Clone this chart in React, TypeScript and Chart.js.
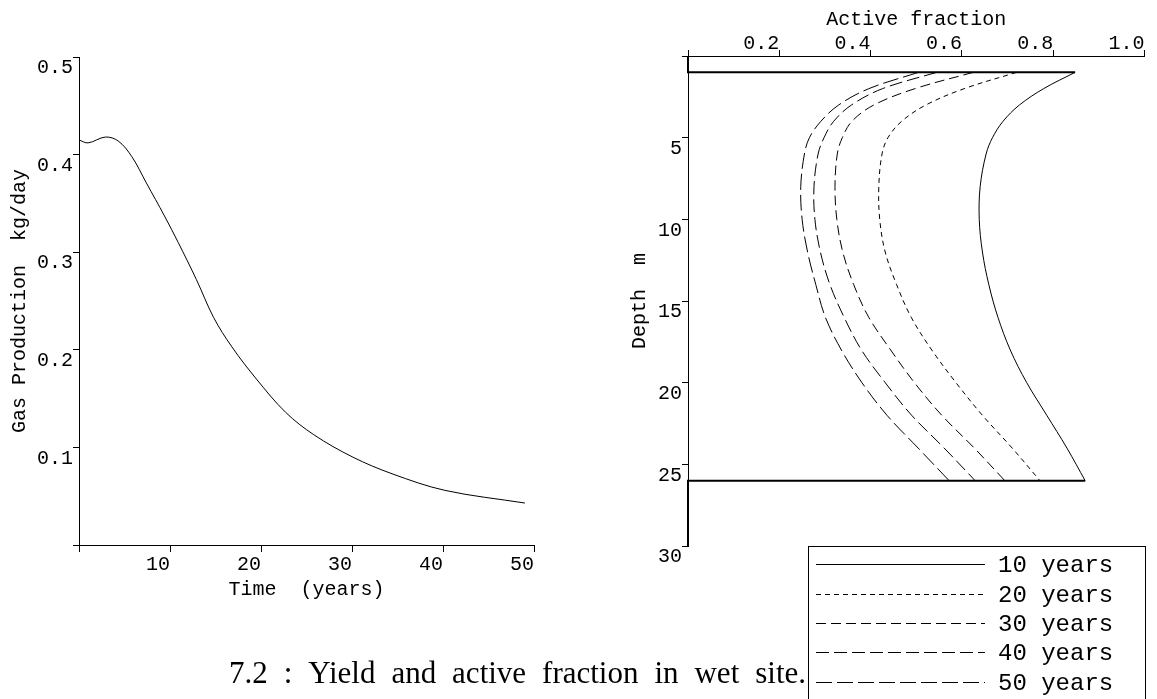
import React, { useEffect, useRef } from 'react';
import { Chart, registerables } from 'chart.js';

Chart.register(...registerables);

// ---- Left panel: gas production over time ----
const TIME_YEARS = [0, 1.0, 2.9, 4.3, 5.8, 7.4, 9.4, 10.9, 12.9, 14.8, 16.8, 19.5, 22.7, 25.8, 30.1, 34.4, 40.2, 49.0];
const GAS_KG_DAY = [0.415, 0.412, 0.418, 0.414, 0.398, 0.371, 0.337, 0.310, 0.272, 0.233, 0.203, 0.170, 0.136, 0.113, 0.090, 0.073, 0.056, 0.043];

// ---- Right panel: active fraction profiles ----
const DEPTH_M = [1, 2, 3, 4, 5, 6, 8, 10, 12, 14, 16, 18, 20, 22, 24, 26];
const FRACTION_10Y = [0.848, 0.779, 0.726, 0.690, 0.667, 0.653, 0.640, 0.638, 0.645, 0.659, 0.679, 0.706, 0.742, 0.786, 0.830, 0.870];
const FRACTION_20Y = [0.720, 0.605, 0.521, 0.468, 0.438, 0.425, 0.418, 0.420, 0.432, 0.457, 0.489, 0.534, 0.587, 0.645, 0.710, 0.771];
const FRACTION_30Y = [0.625, 0.497, 0.407, 0.359, 0.338, 0.327, 0.322, 0.326, 0.339, 0.363, 0.396, 0.444, 0.496, 0.556, 0.627, 0.694];
const FRACTION_40Y = [0.545, 0.426, 0.358, 0.319, 0.298, 0.285, 0.276, 0.278, 0.290, 0.311, 0.342, 0.380, 0.432, 0.490, 0.561, 0.629];
const FRACTION_50Y = [0.505, 0.396, 0.330, 0.291, 0.266, 0.255, 0.247, 0.250, 0.262, 0.280, 0.301, 0.336, 0.381, 0.436, 0.504, 0.572];
const SERIES_LABELS = ['10 years', '20 years', '30 years', '40 years', '50 years'];
const DEPTH_MAX_M = 30;

const CAPTION = '7.2 : Yield and active fraction in wet site.';

const MONO = 'Liberation Mono';
const SERIF = 'Liberation Serif';
const DASHES: number[][] = [[], [5, 4], [10, 5], [13, 5], [16, 5]];

const noZero = (fmt: (v: number) => string) => (v: any) => (Math.abs(Number(v)) < 1e-9 ? '' : fmt(Number(v)));

const decorPlugin = {
  id: 'decor',
  afterDraw(chart: any) {
    const ctx: CanvasRenderingContext2D = chart.ctx;
    ctx.save();
    // legend frame
    ctx.strokeStyle = '#000';
    ctx.lineWidth = 1;
    ctx.setLineDash([]);
    ctx.strokeRect(808.5, 546.5, 337, 200);
    ctx.font = `24px "${MONO}"`;
    ctx.fillStyle = '#000';
    ctx.textBaseline = 'alphabetic';
    ctx.textAlign = 'left';
    SERIES_LABELS.forEach((label, i) => {
      const ds = chart.data.datasets[i];
      const y = Math.round(564.3 + i * 29.3) + 0.5;
      ctx.setLineDash(ds.borderDash || []);
      ctx.beginPath();
      ctx.moveTo(816, y);
      ctx.lineTo(985, y);
      ctx.stroke();
      ctx.setLineDash([]);
      ctx.fillText(label, 998, y + 7.2);
    });
    // caption, justified between x0 and x1
    ctx.font = `31px "${SERIF}"`;
    const words = CAPTION.split(' ');
    const widths = words.map((w) => ctx.measureText(w).width);
    const total = widths.reduce((a, b) => a + b, 0);
    const x0 = 229;
    const x1 = 806;
    const gap = (x1 - x0 - total) / (words.length - 1);
    let x = x0;
    words.forEach((w, i) => {
      ctx.fillText(w, x, 683.3);
      x += widths[i] + gap;
    });
    ctx.restore();
  },
};

export default function App() {
  const leftRef = useRef<HTMLCanvasElement | null>(null);
  const rightRef = useRef<HTMLCanvasElement | null>(null);

  useEffect(() => {
    Chart.defaults.font.family = MONO;
    Chart.defaults.color = '#000';

    const tickFont = { family: MONO, size: 20 };
    const titleFont = { family: MONO, size: 20 };

    const left = new Chart(leftRef.current as HTMLCanvasElement, {
      type: 'line',
      data: {
        datasets: [
          {
            label: 'Gas production',
            data: TIME_YEARS.map((t, i) => ({ x: t, y: GAS_KG_DAY[i] })),
            borderColor: '#000',
            borderWidth: 1,
            pointRadius: 0,
            tension: 0.35,
            fill: false,
          },
        ],
      },
      options: {
        animation: false,
        responsive: false,
        devicePixelRatio: 1,
        events: [],
        layout: { padding: { left: 0, top: 57, right: 623, bottom: 0 } },
        plugins: { legend: { display: false }, tooltip: { enabled: false } },
        scales: {
          x: {
            type: 'linear',
            min: 0,
            max: 50,
            afterFit: (s: any) => {
              s.height = 154;
            },
            grid: { drawOnChartArea: false, drawTicks: true, tickLength: 7, color: '#000' },
            border: { display: true, color: '#000', width: 1 },
            ticks: {
              stepSize: 10,
              autoSkip: false,
              maxRotation: 0,
              align: 'end',
              padding: 1,
              font: tickFont,
              color: '#000',
              callback: noZero((v) => String(Math.round(v))),
            },
            title: { display: true, text: 'Time  (years)', font: titleFont, color: '#000', padding: { top: 0, bottom: 97 } },
          },
          y: {
            type: 'linear',
            min: 0,
            max: 0.5,
            afterFit: (s: any) => {
              s.width = 79;
            },
            grid: { drawOnChartArea: false, drawTicks: true, tickLength: 6, color: '#000' },
            border: { display: true, color: '#000', width: 1 },
            ticks: {
              stepSize: 0.1,
              autoSkip: false,
              align: 'start',
              padding: 0,
              labelOffset: 1,
              font: tickFont,
              color: '#000',
              callback: noZero((v) => v.toFixed(1)),
            },
            title: { display: true, text: 'Gas Production  kg/day', font: titleFont, color: '#000', padding: { top: 8, bottom: 0 } },
          },
        },
      } as any,
    });

    const profiles = [FRACTION_10Y, FRACTION_20Y, FRACTION_30Y, FRACTION_40Y, FRACTION_50Y];
    const datasets: any[] = profiles.map((arr, i) => ({
      label: SERIES_LABELS[i],
      data: DEPTH_M.map((d, j) => ({ x: arr[j], y: d })),
      borderColor: '#000',
      borderWidth: 1,
      borderDash: DASHES[i],
      pointRadius: 0,
      tension: 0.35,
      fill: false,
      clip: false,
    }));
    const topDepth = DEPTH_M[0];
    const botDepth = DEPTH_M[DEPTH_M.length - 1];
    datasets.push({
      label: 'layer top',
      data: [
        { x: 0, y: 0 },
        { x: 0, y: topDepth },
        { x: FRACTION_10Y[0], y: topDepth },
      ],
      borderColor: '#000',
      borderWidth: 2,
      pointRadius: 0,
      tension: 0,
      fill: false,
      clip: false,
    });
    datasets.push({
      label: 'layer bottom',
      data: [
        { x: 0, y: botDepth },
        { x: FRACTION_10Y[FRACTION_10Y.length - 1], y: botDepth },
        { x: 0, y: botDepth },
        { x: 0, y: DEPTH_MAX_M },
      ],
      borderColor: '#000',
      borderWidth: 2,
      pointRadius: 0,
      tension: 0,
      fill: false,
      clip: false,
    });

    const right = new Chart(rightRef.current as HTMLCanvasElement, {
      type: 'line',
      data: { datasets },
      options: {
        animation: false,
        responsive: false,
        devicePixelRatio: 1,
        events: [],
        indexAxis: 'y',
        layout: { padding: { left: 600, top: 0, right: 12.5, bottom: 153 } },
        plugins: { legend: { display: false }, tooltip: { enabled: false } },
        scales: {
          x: {
            type: 'linear',
            position: 'top',
            min: 0,
            max: 1,
            afterFit: (s: any) => {
              s.height = 56;
            },
            grid: { drawOnChartArea: false, drawTicks: true, tickLength: 6, color: '#000' },
            border: { display: true, color: '#000', width: 1 },
            ticks: {
              stepSize: 0.2,
              autoSkip: false,
              maxRotation: 0,
              align: 'end',
              padding: -6,
              font: tickFont,
              color: '#000',
              callback: noZero((v) => v.toFixed(1)),
            },
            title: { display: true, text: 'Active fraction', font: titleFont, color: '#000', padding: { top: 8, bottom: 0 } },
          },
          y: {
            type: 'linear',
            position: 'left',
            reverse: true,
            min: 0,
            max: DEPTH_MAX_M,
            afterFit: (s: any) => {
              s.width = 88;
            },
            grid: { drawOnChartArea: false, drawTicks: true, tickLength: 6, color: '#000' },
            border: { display: true, color: '#000', width: 1 },
            ticks: {
              stepSize: 5,
              autoSkip: false,
              align: 'start',
              padding: 0,
              labelOffset: 1,
              font: tickFont,
              color: '#000',
              callback: noZero((v) => String(Math.round(v))),
            },
            title: { display: true, text: 'Depth  m', font: titleFont, color: '#000', padding: { top: 28, bottom: 0 } },
          },
        },
      } as any,
      plugins: [decorPlugin],
    });

    return () => {
      left.destroy();
      right.destroy();
    };
  }, []);

  return (
    <div style={{ position: 'fixed', left: 0, top: 0, width: 1157, height: 699, background: '#fff', overflow: 'hidden' }}>
      <canvas ref={leftRef} width={1157} height={699} style={{ position: 'absolute', left: 0, top: 0 }} />
      <canvas ref={rightRef} width={1157} height={699} style={{ position: 'absolute', left: 0, top: 0 }} />
    </div>
  );
}
